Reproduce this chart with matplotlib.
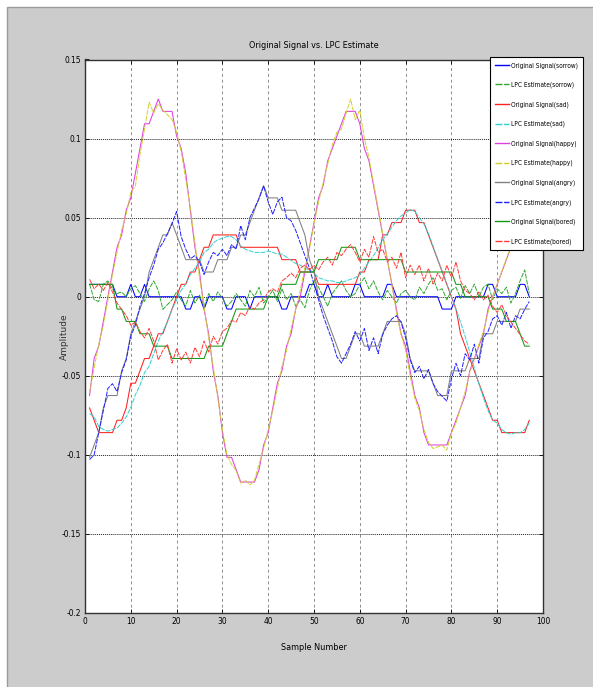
import numpy as np
import matplotlib
matplotlib.use('Agg')
import matplotlib.pyplot as plt
from matplotlib import font_manager
from matplotlib.patches import Rectangle

# sample index (1..97)
n = np.arange(1, 98)

# original signals are 8 bit codes (1/128 steps), LPC estimates in thousandths
sorrow_orig = [1, 1, 1, 1, 1, 1, 0, 0, 0, 1,
               0, 0, 1, 0, 0, 0, 0, 0, 0, 0,
               0, -1, -1, 0, 0, -1, 0, 0, 0, 0,
               -1, -1, 0, 0, 0, -1, 0, 0, 0, 0,
               0, 0, -1, -1, 0, 0, 0, 0, 1, 1,
               0, 0, 1, 0, 0, 0, 0, 0, 1, 1,
               0, 0, 0, 0, 0, 1, 1, 0, 0, 0,
               0, 0, 0, 0, 0, 0, 0, -1, -1, -1,
               0, 0, 0, 0, 0, 0, 0, 1, 1, 0,
               0, 0, 0, 0, 1, 1, 0]
sorrow_lpc = [8, -2, -3, 8, 10, 5, 2, 3, 0, 5,
              7, 2, -3, 5, 10, 4, -8, -5, -2, 3,
              -2, -6, 4, -4, 1, -6, 2, -3, 3, -1,
              -6, -3, 2, -2, -6, 4, 0, 6, -4, 0,
              4, -3, 5, -2, 2, -6, -2, -7, 4, 10,
              6, 0, -6, 2, 6, 10, 4, 0, 2, 8,
              12, 5, 10, 3, -2, 4, 0, -4, 2, 4,
              0, -2, 6, 2, 8, 12, 4, 5, -2, 4,
              6, -1, 7, 2, 8, 0, 6, 8, -2, 5,
              2, 6, -4, 2, 10, 17, 2]

sad_orig = [-9, -10, -11, -11, -11, -11, -10, -10, -9, -7,
            -7, -6, -5, -5, -4, -3, -3, -2, -1, 0,
            1, 1, 2, 2, 3, 4, 4, 5, 5, 5,
            5, 5, 5, 4, 4, 4, 4, 4, 4, 4,
            4, 4, 3, 3, 3, 3, 2, 2, 2, 2,
            1, 1, 1, 1, 1, 1, 1, 1, 1, 2,
            2, 3, 3, 3, 5, 5, 6, 6, 6, 7,
            7, 7, 6, 6, 5, 4, 3, 2, 1, 0,
            -1, -3, -4, -5, -6, -7, -8, -9, -10, -10,
            -11, -11, -11, -11, -11, -11, -10]
sad_lpc = [-74, -76, -82, -84, -85, -84, -83, -80, -76, -70,
           -62, -56, -48, -44, -36, -28, -22, -16, -8, -2,
           4, 8, 14, 18, 22, 28, 30, 34, 36, 37,
           38, 38, 36, 32, 30, 29, 28, 28, 28, 29,
           28, 27, 27, 25, 23, 21, 20, 18, 17, 15,
           12, 11, 10, 10, 9, 9, 10, 11, 12, 14,
           18, 22, 26, 31, 36, 40, 44, 48, 51, 53,
           55, 54, 50, 46, 40, 32, 24, 16, 8, 0,
           -8, -16, -25, -35, -45, -55, -64, -72, -78, -80,
           -84, -86, -87, -86, -86, -84, -80]

happy_orig = [-8, -5, -4, -2, 0, 2, 4, 5, 7, 8,
              10, 12, 14, 14, 15, 16, 15, 15, 15, 13,
              12, 10, 7, 4, 2, -1, -3, -6, -8, -11,
              -13, -13, -14, -15, -15, -15, -15, -14, -12, -11,
              -9, -7, -6, -4, -3, -1, 0, 2, 4, 6,
              8, 9, 11, 12, 13, 14, 15, 15, 15, 14,
              12, 11, 9, 7, 5, 3, 1, -1, -3, -4,
              -6, -8, -9, -11, -12, -12, -12, -12, -12, -11,
              -10, -9, -8, -6, -5, -4, -3, -1, 0, 1,
              2, 3, 4, 5, 6, 7, 8]
happy_lpc = [-60, -45, -30, -18, -2, 14, 28, 42, 52, 66,
             70, 90, 106, 123, 116, 122, 118, 115, 112, 104,
             92, 74, 56, 34, 12, -6, -26, -44, -64, -84,
             -100, -106, -110, -118, -116, -119, -116, -106, -96, -84,
             -72, -58, -44, -34, -20, -8, 4, 18, 30, 46,
             60, 72, 84, 96, 104, 106, 116, 125, 112, 118,
             100, 88, 72, 56, 40, 24, 8, -10, -24, -34,
             -50, -64, -72, -84, -92, -96, -95, -94, -97, -86,
             -80, -70, -60, -48, -40, -30, -22, -10, 0, 8,
             16, 24, 32, 40, 48, 55, 62]

angry_orig = [-13, -12, -11, -9, -8, -8, -8, -6, -5, -3,
              -2, -1, 0, 2, 3, 4, 5, 5, 6, 5,
              4, 3, 3, 3, 3, 2, 2, 2, 3, 3,
              3, 4, 4, 5, 5, 6, 7, 8, 9, 8,
              8, 8, 7, 7, 7, 7, 6, 5, 3, 2,
              0, -1, -2, -3, -4, -5, -5, -4, -3, -3,
              -4, -4, -4, -4, -3, -2, -2, -2, -2, -3,
              -5, -6, -6, -6, -6, -7, -8, -8, -8, -6,
              -6, -6, -6, -5, -5, -5, -3, -3, -3, -2,
              -2, -2, -2, -2, -1, -1, -1]
angry_lpc = [-103, -100, -86, -72, -58, -55, -60, -48, -40, -25,
             -18, -6, 2, 12, 20, 30, 34, 40, 46, 54,
             38, 30, 24, 26, 22, 14, 22, 28, 26, 30,
             26, 33, 30, 45, 36, 50, 56, 62, 70, 60,
             52, 60, 63, 50, 48, 42, 34, 26, 18, 8,
             -2, -12, -20, -28, -38, -42, -36, -30, -22, -28,
             -20, -34, -26, -36, -24, -18, -14, -12, -16, -26,
             -40, -48, -44, -52, -46, -55, -60, -63, -66, -52,
             -42, -50, -36, -40, -30, -42, -26, -22, -14, -12,
             -18, -10, -20, -12, -14, -8, -3]

bored_orig = [1, 1, 1, 1, 1, 1, -1, -1, -2, -2,
              -2, -3, -3, -3, -4, -4, -4, -4, -5, -5,
              -5, -5, -5, -5, -5, -5, -4, -4, -4, -4,
              -3, -2, -1, -1, -1, -1, -1, -1, -1, 0,
              0, 0, 1, 1, 1, 1, 2, 2, 2, 2,
              3, 3, 3, 3, 3, 4, 4, 4, 4, 3,
              3, 3, 3, 3, 3, 3, 3, 3, 3, 2,
              2, 2, 2, 2, 2, 2, 2, 2, 2, 2,
              1, 1, 0, 0, 0, 0, 0, 0, -1, -1,
              -1, -2, -2, -2, -3, -4, -4]
bored_lpc = [11, 5, 8, 4, 9, 3, -4, -8, -12, -18,
             -16, -22, -26, -20, -28, -40, -34, -30, -42, -33,
             -40, -35, -42, -32, -38, -28, -35, -25, -30, -22,
             -20, -15, -16, -10, -12, -6, -8, -4, -2, 3,
             5, 3, 10, 12, 15, 12, 18, 20, 17, 20,
             17, 22, 25, 20, 28, 26, 30, 33, 28, 22,
             30, 25, 38, 28, 30, 22, 25, 18, 28, 12,
             20, 14, 20, 10, 18, 8, 15, 10, 20, 12,
             22, 10, 4, 2, -2, 3, -2, 1, -6, -10,
             -5, -12, -16, -20, -24, -28, -30]

emotions = ['sorrow', 'sad', 'happy', 'angry', 'bored']
orig_colors = ['#0000ff', '#ff2020', '#e040e0', '#808080', '#129a12']
lpc_colors = ['#2ea82e', '#30d0d0', '#d0d030', '#2020ff', '#ff3a3a']

y_ticks = [0.15, 0.1, 0.05, 0, -0.05, -0.1, -0.15, -0.2]
y_ticklabels = ['0.15', '0.1', '0.05', '0', '-0.05', '-0.1', '-0.15', '-0.2']
x_ticks = [0, 10, 20, 30, 40, 50, 60, 70, 80, 90, 100]

# regular condensed face if one is installed
cond = [f for f in font_manager.fontManager.ttflist
        if f.name == 'DejaVu Sans' and 'Condensed' in f.fname
        and 'Bold' not in f.fname and 'Oblique' not in f.fname]
if cond:
    small = font_manager.FontProperties(fname=cond[0].fname)
else:
    small = font_manager.FontProperties(family='Liberation Sans')

fig = plt.figure(figsize=(5.93, 6.87), dpi=100)
fig.patch.set_facecolor('white')
fig.add_artist(Rectangle((7 / 593, -0.01), 1.0, (687 - 7) / 687 + 0.01,
                         transform=fig.transFigure, facecolor='#cccccc',
                         edgecolor='#9a9a9a', lw=1, zorder=-10))

ax = fig.add_axes([85 / 593, 1 - 613 / 687, 458 / 593, 553.5 / 687])

series = [(sorrow_orig, sorrow_lpc), (sad_orig, sad_lpc), (happy_orig, happy_lpc),
          (angry_orig, angry_lpc), (bored_orig, bored_lpc)]
for i, (orig, lpc) in enumerate(series):
    ax.plot(n, np.array(orig) / 128.0, color=orig_colors[i], lw=0.75,
            label='Original Signal(%s)' % emotions[i])
    ax.plot(n, np.array(lpc) / 1000.0, color=lpc_colors[i], lw=0.7,
            linestyle=(0, (5, 1.2)), label='LPC Estimate(%s)' % emotions[i])

ax.set_xlim(0, 100)
ax.set_ylim(-0.2, 0.15)
ax.set_xticks(x_ticks)
ax.set_xticklabels([str(t) for t in x_ticks])
ax.set_yticks(y_ticks)
ax.set_yticklabels(y_ticklabels)
ax.tick_params(direction='in', length=3, width=0.6, top=True, right=True,
               labelsize=6, pad=3)
for lab in ax.get_xticklabels() + ax.get_yticklabels():
    lab.set_fontproperties(small)
    lab.set_fontsize(6)

ax.xaxis.grid(True, color='#8c8c8c', linestyle=(0, (3, 3)), lw=0.7)
ax.yaxis.grid(True, color='#222222', linestyle=(0, (1, 1)), lw=0.7)
for s in ax.spines.values():
    s.set_linewidth(1.0)
    s.set_color('#333333')

ax.text(0.5, 1.026, 'Original Signal vs. LPC Estimate', transform=ax.transAxes,
        ha='center', va='center', fontproperties=small, fontsize=6.5)
ax.set_xlabel('Sample Number', fontproperties=small, fontsize=6.5)
ax.xaxis.set_label_coords(0.5, -0.054)
ax.set_ylabel('Amplitude', fontsize=6.5, color='#333333')
ax.yaxis.set_label_coords(-0.036, 0.5)

leg_font = small.copy()
leg_font.set_size(4.7)
leg = fig.legend(loc='upper left', bbox_to_anchor=(490 / 593, 1 - 57 / 687),
                 borderaxespad=0, prop=leg_font,
                 handlelength=2.1, handletextpad=0.3, labelspacing=2.0,
                 borderpad=0.8, fancybox=False, framealpha=1)
leg.get_frame().set_edgecolor('black')
leg.get_frame().set_linewidth(0.8)
for line in leg.get_lines():
    line.set_linewidth(1.0)

fig.savefig('out.png', dpi=100, facecolor=fig.get_facecolor())
